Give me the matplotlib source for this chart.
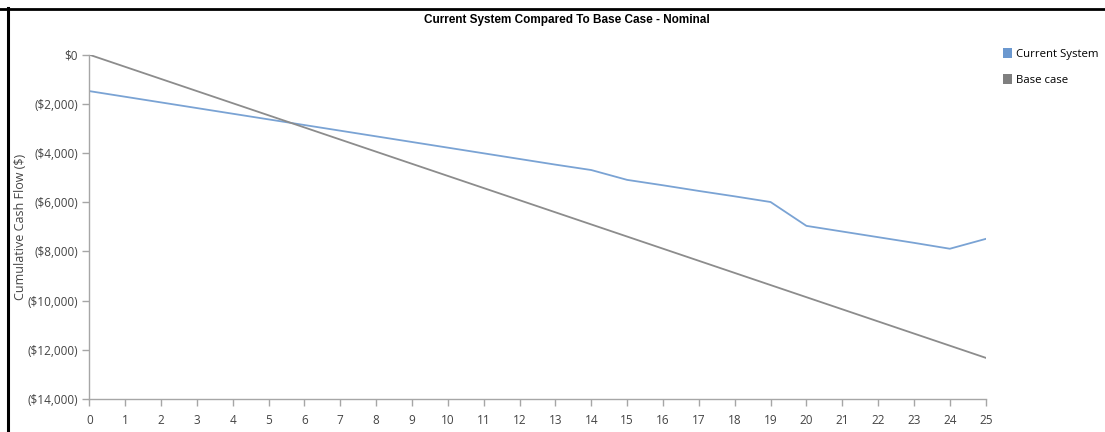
import matplotlib
matplotlib.use("Agg")
import matplotlib.pyplot as plt
from matplotlib.ticker import FuncFormatter, MultipleLocator
from matplotlib.patches import Patch
from matplotlib.lines import Line2D

years = list(range(0, 26))
current_system = [-1480, -1710, -1940, -2170, -2400, -2630, -2860, -3090, -3320,
                  -3550, -3780, -4010, -4240, -4470, -4690, -5090, -5310, -5540,
                  -5760, -5990, -6960, -7190, -7420, -7650, -7890, -7490]
base_case = [0, -493, -986, -1479, -1972, -2465, -2958, -3451, -3944, -4437,
             -4930, -5423, -5916, -6409, -6902, -7395, -7888, -8381, -8874,
             -9367, -9860, -10353, -10846, -11339, -11832, -12325]
series_names = ["Current System", "Base case"]
title_text = "Current System Compared To Base Case - Nominal"
y_label = "Cumulative Cash Flow ($)"

blue = "#7aa3d4"
legend_blue = "#6b98cf"
gray = "#8c8c8c"
legend_gray = "#7f7f7f"
axis_gray = "#a6a6a6"
text_gray = "#444444"

plt.rcParams["font.family"] = ["Open Sans", "DejaVu Sans"]

W, H = 1105, 432
fig = plt.figure(figsize=(W / 100, H / 100), dpi=100)

# outer frame lines (top and left)
fig.add_artist(Line2D([0, 1], [1 - 9 / H, 1 - 9 / H], transform=fig.transFigure,
                      color="black", lw=2.0))
fig.add_artist(Line2D([8 / W, 8 / W], [0, 1 - 8 / H], transform=fig.transFigure,
                      color="black", lw=2.2))

left, right = 89.3 / W, 985.7 / W
bottom, top = 1 - 399 / H, 1 - 54.7 / H
ax = fig.add_axes([left, bottom, right - left, top - bottom])

ax.plot(years, current_system, color=blue, lw=1.3, solid_joinstyle="round")
ax.plot(years, base_case, color=gray, lw=1.3, solid_joinstyle="round")

ax.set_xlim(0, 25)
ax.set_ylim(-14000, 0)
ax.xaxis.set_major_locator(MultipleLocator(1))
ax.yaxis.set_major_locator(MultipleLocator(2000))


def money(v, pos):
    v = int(round(v))
    if v == 0:
        return "$0"
    if v < 0:
        return "(${:,})".format(-v)
    return "${:,}".format(v)


ax.yaxis.set_major_formatter(FuncFormatter(money))

for side in ("top", "right"):
    ax.spines[side].set_visible(False)
for side in ("left", "bottom"):
    ax.spines[side].set_color(axis_gray)
    ax.spines[side].set_linewidth(1.0)

ax.tick_params(axis="both", direction="out", length=5, width=1.0,
               color=axis_gray, labelcolor=text_gray, labelsize=8.5)
ax.tick_params(axis="x", pad=6)
ax.tick_params(axis="y", pad=3)

ax.set_ylabel(y_label, fontsize=9, color=text_gray)
ax.yaxis.set_label_coords(-62 / (985.7 - 89.3), 0.5)

fig.text(567 / W, 1 - 20 / H, title_text, ha="center", va="center",
         fontsize=8.5, fontweight="bold", color="black",
         family=["Liberation Sans", "DejaVu Sans"])

handles = [Patch(facecolor=legend_blue, edgecolor="none"),
           Patch(facecolor=legend_gray, edgecolor="none")]
fig.legend(handles, series_names, loc="upper left",
           bbox_to_anchor=(1003 / W, 1 - 48 / H), frameon=False,
           handlelength=0.8, handleheight=1.0, handletextpad=0.3,
           labelspacing=1.2, fontsize=8.2, borderaxespad=0, borderpad=0)

fig.savefig("out.png", dpi=100)
